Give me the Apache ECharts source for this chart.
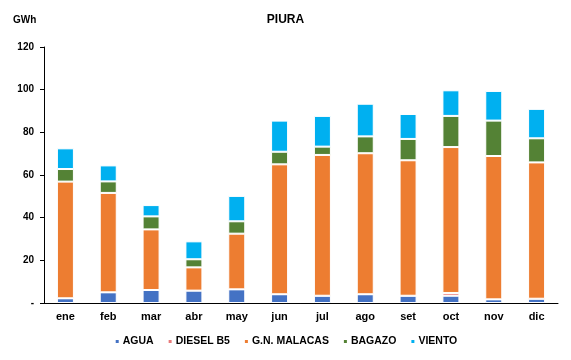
<!DOCTYPE html>
<html><head><meta charset="utf-8">
<script src="https://cdn.jsdelivr.net/npm/echarts@6/dist/echarts.min.js"></script>
<style>html,body{margin:0;padding:0;background:#fff}#c{width:571px;height:360px}</style>
</head><body><div id="c"></div>
<script>
const categories = ['ene','feb','mar','abr','may','jun','jul','ago','set','oct','nov','dic'];
const agua    = [2.2, 5.0, 6.1, 5.8, 6.4, 4.1, 3.4, 4.1, 3.4, 3.4, 1.7, 2.0];
const diesel  = [0, 0, 0, 0, 0, 0, 0, 0, 0, 1.3, 0, 0];
const gn      = [54.7, 46.6, 28.4, 10.9, 26.1, 60.9, 66.0, 66.1, 63.5, 68.4, 67.2, 63.9];
const bagazo  = [5.9, 5.4, 6.1, 3.8, 5.8, 5.9, 3.9, 7.9, 10.0, 14.6, 16.6, 11.3];
const viento  = [9.7, 7.5, 5.3, 8.4, 11.9, 14.6, 14.4, 15.3, 11.7, 12.0, 13.9, 13.8];
const yTicks  = [0, 20, 40, 60, 80, 100, 120];

const names = ['AGUA','DIESEL B5','G.N. MALACAS','BAGAZO','VIENTO'];
const colors = ['#4472C4','#E87A7A','#ED7D31','#548235','#00B0F0'];
const datas = [agua, diesel, gn, bagazo, viento];
const font = 'Liberation Sans, Arial, sans-serif';

const chart = echarts.init(document.getElementById('c'));
chart.setOption({
  animation: false,
  textStyle: {fontFamily: font},
  title: [
    {text: 'PIURA', left: 'center', top: 9, textStyle: {fontSize: 12, fontWeight: 'bold', color: '#000', fontFamily: font}},
    {text: 'GWh', left: 8, top: 10, textStyle: {fontSize: 10, fontWeight: 'bold', color: '#000', fontFamily: font}}
  ],
  grid: {left: 44, right: 13, top: 47, bottom: 57},
  legend: {
    bottom: 8, left: 'center', icon: 'rect', itemWidth: 5, itemHeight: 5, itemGap: 13,
    textStyle: {fontSize: 10.5, fontWeight: 'bold', color: '#000', fontFamily: font, padding: [0,0,0,-2]},
    data: names
  },
  xAxis: {
    type: 'category', data: categories,
    axisLine: {lineStyle: {color: '#000', width: 1}},
    axisTick: {show: false},
    axisLabel: {fontSize: 11, fontWeight: 'bold', color: '#000', margin: 8}
  },
  yAxis: {
    type: 'value', min: 0, max: 120, interval: 20,
    splitLine: {show: false},
    axisLine: {show: true, lineStyle: {color: '#000', width: 1}},
    axisTick: {show: true, length: 4, lineStyle: {color: '#000'}},
    axisLabel: {fontSize: 10, fontWeight: 'bold', color: '#000', margin: 10,
      formatter: v => yTicks.includes(v) ? (v === 0 ? '-' : String(v)) : ''}
  },
  series: names.map((n, i) => ({
    name: n, type: 'bar', stack: 'total', data: datas[i], barWidth: 17,
    itemStyle: {color: colors[i], borderColor: '#fff', borderWidth: 1}
  }))
});
</script></body></html>
